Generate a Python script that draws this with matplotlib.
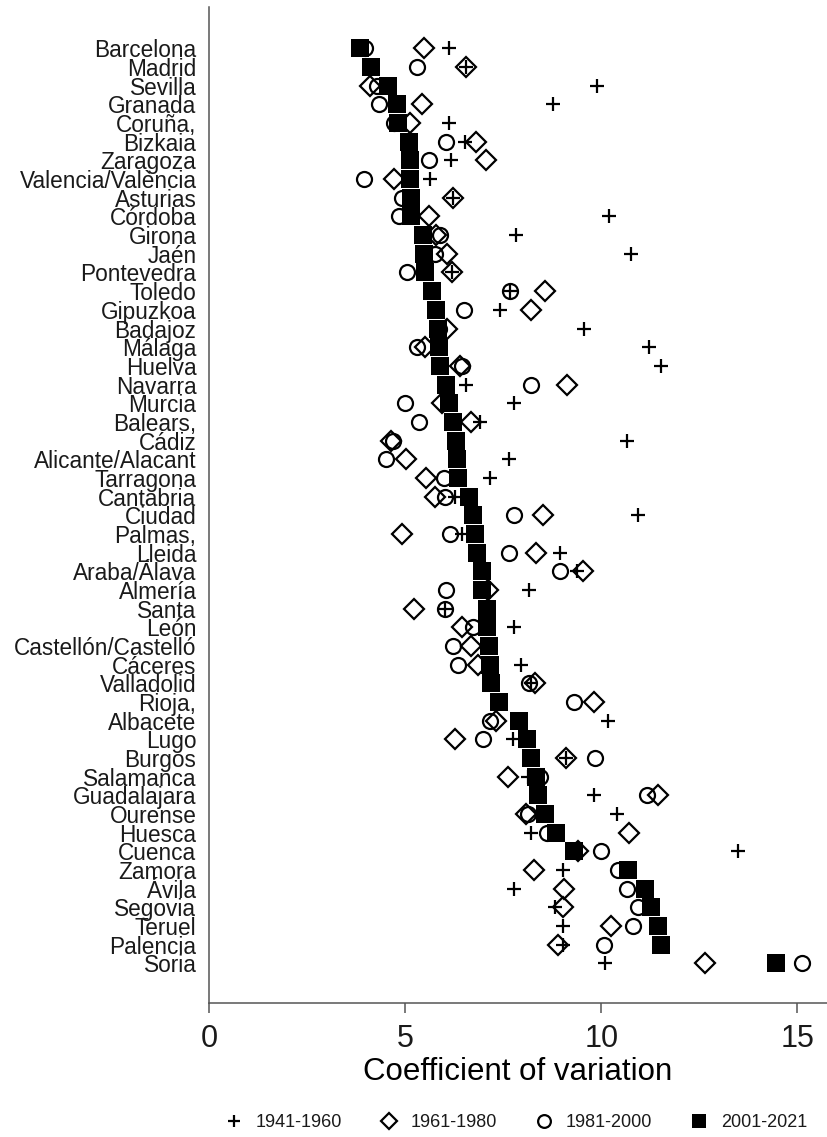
import matplotlib
matplotlib.use("Agg")
import matplotlib.pyplot as plt
import numpy as np

plt.rcParams.update({
    "font.family": ["Liberation Sans", "DejaVu Sans"],
    "text.color": "#1a1a1a",
    "xtick.color": "#555555",
    "xtick.labelcolor": "#1a1a1a",
    "ytick.labelcolor": "#1a1a1a",
})

# provinces, top to bottom
provinces = [
    "Barcelona", "Madrid", "Sevilla", "Granada", "Coruña,", "Bizkaia", "Zaragoza",
    "Valencia/València", "Asturias", "Córdoba", "Girona", "Jaén", "Pontevedra",
    "Toledo", "Gipuzkoa", "Badajoz", "Málaga", "Huelva", "Navarra", "Murcia",
    "Balears,", "Cádiz", "Alicante/Alacant", "Tarragona", "Cantabria", "Ciudad",
    "Palmas,", "Lleida", "Araba/Álava", "Almería", "Santa", "León",
    "Castellón/Castelló", "Cáceres", "Valladolid", "Rioja,", "Albacete", "Lugo",
    "Burgos", "Salamanca", "Guadalajara", "Ourense", "Huesca", "Cuenca", "Zamora",
    "Ávila", "Segovia", "Teruel", "Palencia", "Soria",
]

cv_1941_1960 = [
    6.11, 6.56, 9.88, 8.78, 6.12, 6.53, 6.18, 5.64, 6.23, 10.21, 7.84, 10.77, 6.19,
    7.67, 7.42, 9.55, 11.23, 11.53, 6.56, 7.78, 6.90, 10.66, 7.65, 7.17, 6.28, 10.93,
    6.45, 8.94, 9.37, 8.16, 6.02, 7.78, 7.12, 7.95, 8.22, 7.40, 10.17, 7.74,
    9.11, 8.14, 9.81, 10.40, 8.22, 13.50, 9.03, 7.78, 8.82, 9.03, 9.03, 10.09,
]
cv_1961_1980 = [
    5.47, 6.56, 4.10, 5.43, 5.13, 6.80, 7.07, 4.71, 6.23, 5.60, 5.80, 6.08, 6.19,
    8.56, 8.20, 6.07, 5.52, 6.40, 9.13, 5.94, 6.68, 4.64, 5.03, 5.54, 5.75, 8.52,
    4.92, 8.34, 9.54, 7.12, 5.22, 6.45, 6.68, 6.87, 8.31, 9.82, 7.32, 6.28,
    9.11, 7.63, 11.44, 8.08, 10.70, 9.41, 8.28, 9.05, 9.03, 10.26, 8.90, 12.65,
]
cv_1981_2000 = [
    3.99, 5.30, 4.29, 4.33, 4.71, 6.04, 5.62, 3.96, 4.92, 4.84, 5.90, 5.77, 5.05,
    7.67, 6.49, 5.86, 5.30, 6.45, 8.20, 4.99, 5.35, 4.68, 4.52, 5.98, 6.02, 7.78,
    6.15, 7.65, 8.96, 6.05, 6.02, 6.74, 6.21, 6.35, 8.16, 9.31, 7.17, 6.98,
    9.83, 8.44, 11.17, 8.14, 8.61, 10.00, 10.43, 10.66, 10.93, 10.81, 10.07, 15.13,
]
cv_2001_2021 = [
    3.86, 4.14, 4.57, 4.79, 4.81, 5.09, 5.12, 5.13, 5.15, 5.16, 5.45, 5.47, 5.52,
    5.68, 5.79, 5.84, 5.87, 5.90, 6.05, 6.11, 6.23, 6.30, 6.32, 6.36, 6.62, 6.74,
    6.79, 6.83, 6.95, 6.97, 7.08, 7.10, 7.14, 7.17, 7.19, 7.40, 7.90, 8.10,
    8.21, 8.33, 8.39, 8.56, 8.84, 9.31, 10.68, 11.12, 11.27, 11.44, 11.53, 14.45,
]

rows = np.arange(len(provinces))

fig = plt.figure(figsize=(8.27, 11.37), dpi=100)
ax = fig.add_axes([0.2527, 0.1175, 0.747, 0.876])

ax.plot(cv_1941_1960, rows, linestyle="none", marker="+", ms=10, mew=1.6,
        color="black", label="1941-1960")
ax.plot(cv_1961_1980, rows, linestyle="none", marker="D", ms=10, mew=1.6,
        mfc="none", mec="black", label="1961-1980")
ax.plot(cv_1981_2000, rows, linestyle="none", marker="o", ms=10.8, mew=1.6,
        mfc="none", mec="black", label="1981-2000")
ax.plot(cv_2001_2021, rows, linestyle="none", marker="s", ms=12.5, mew=0,
        color="black", label="2001-2021")

ax.set_xlim(0, 15.75)
ax.set_ylim(len(provinces) - 1 + 2.15, -2.2)
ax.set_xticks([0, 5, 10, 15])
ax.set_yticks(rows)
ax.set_yticklabels(provinces, fontsize=16.3)
ax.tick_params(axis="y", length=0, pad=9)
ax.tick_params(axis="x", labelsize=22, length=7, width=1.1, pad=8)
ax.set_xlabel("Coefficient of variation", fontsize=22.5, labelpad=2)

for side in ["top", "right"]:
    ax.spines[side].set_visible(False)
for side in ["left", "bottom"]:
    ax.spines[side].set_color("#555555")
    ax.spines[side].set_linewidth(1.1)

handles, labels = ax.get_legend_handles_labels()
fig.legend(handles, labels, loc="center", bbox_to_anchor=(0.623, 0.0125),
           ncol=4, frameon=False, fontsize=13, markerscale=0.85,
           handlelength=1.2, handletextpad=0.6, columnspacing=2.0)

fig.savefig("out.png", dpi=100)
